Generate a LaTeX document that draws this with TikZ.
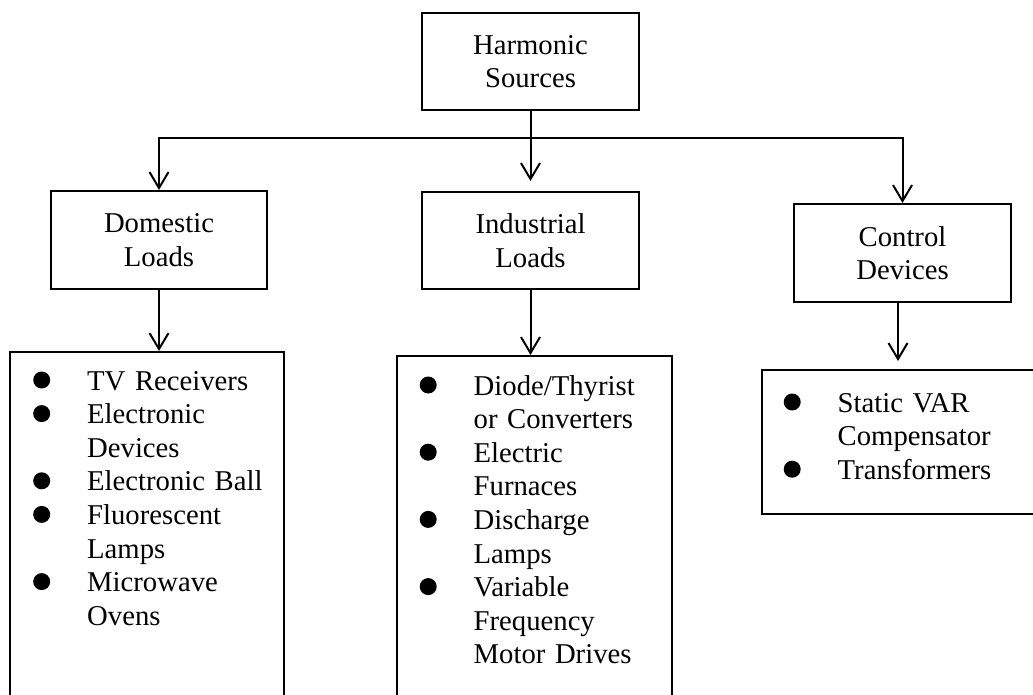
\documentclass[tikz,border=0pt]{standalone}
\usepackage{fontspec}
\setmainfont{Liberation Serif}
\usepackage{tikz}
\usetikzlibrary{arrows.meta,positioning}

\newcommand{\bdot}{\makebox[54pt][l]{\tikz[baseline=0pt]\fill (8.5pt,10pt) circle (8.5pt);}}
\newcommand{\bskip}{\hspace*{54pt}}

\begin{document}
\begin{tikzpicture}[x=1pt, y=-1pt, line width=2pt, every node/.style={font=\fontsize{28.7}{33.6}\selectfont}]
    \tikzstyle{blk} = [rectangle, draw=black, minimum width=217pt, minimum height=97pt, align=center, inner sep=0pt]
    \tikzstyle{lst} = [rectangle, draw=black, inner sep=0pt]
    \tikzstyle{items} = [anchor=base west, text width=240pt, align=left, inner sep=0pt]
    \tikzstyle{arr} = [-{Straight Barb[length=16pt,width=19pt]}]
    \useasboundingbox (0,0) rectangle (1033,695);
    \clip (0,0) rectangle (1033,695);

    \node (src) [blk] at (530.5,61.5) {Harmonic\\Sources};
    \node (dom) [blk, minimum width=216pt, minimum height=98pt] at (159,240) {Domestic\\Loads};
    \node (ind) [blk] at (530.5,240.5) {Industrial\\Loads};
    \node (ctl) [blk, minimum height=98pt] at (902.5,253) {Control\\Devices};

    \node (domlist) [lst, minimum width=274pt, minimum height=368pt] at (147,536) {};
    \node (indlist) [lst, minimum width=275pt, minimum height=364pt] at (534.5,538) {};
    \node (ctllist) [lst, minimum width=283pt, minimum height=144pt] at (903.5,442) {};

    \node (domitems) [items] at (33,390) {\bdot TV Receivers\\ \bdot Electronic\\ \bskip Devices\\ \bdot Electronic Ball\\ \bdot Fluorescent\\ \bskip Lamps\\ \bdot Microwave\\ \bskip Ovens};
    \node (inditems) [items] at (419.5,395) {\bdot Diode/Thyrist\\ \bskip or Converters\\ \bdot Electric\\ \bskip Furnaces\\ \bdot Discharge\\ \bskip Lamps\\ \bdot Variable\\ \bskip Frequency\\ \bskip Motor Drives};
    \node (ctlitems) [items] at (783.5,412) {\bdot Static VAR\\ \bskip Compensator\\ \bdot Transformers};

    \coordinate (bus) at (530.5,138);
    \draw [arr, shorten >=10pt] (src.south) -- (ind.north);
    \draw [arr] (bus) -| (dom.north);
    \draw [arr] (bus) -| (ctl.north);
    \draw [arr] (dom.south) -- (dom.south |- domlist.north);
    \draw [arr] (ind.south) -- (ind.south |- indlist.north);
    \draw [arr, shorten >=8pt] ([xshift=-4.5pt]ctl.south) -- ([xshift=-4.5pt]ctl.south |- ctllist.north);
\end{tikzpicture}
\end{document}
